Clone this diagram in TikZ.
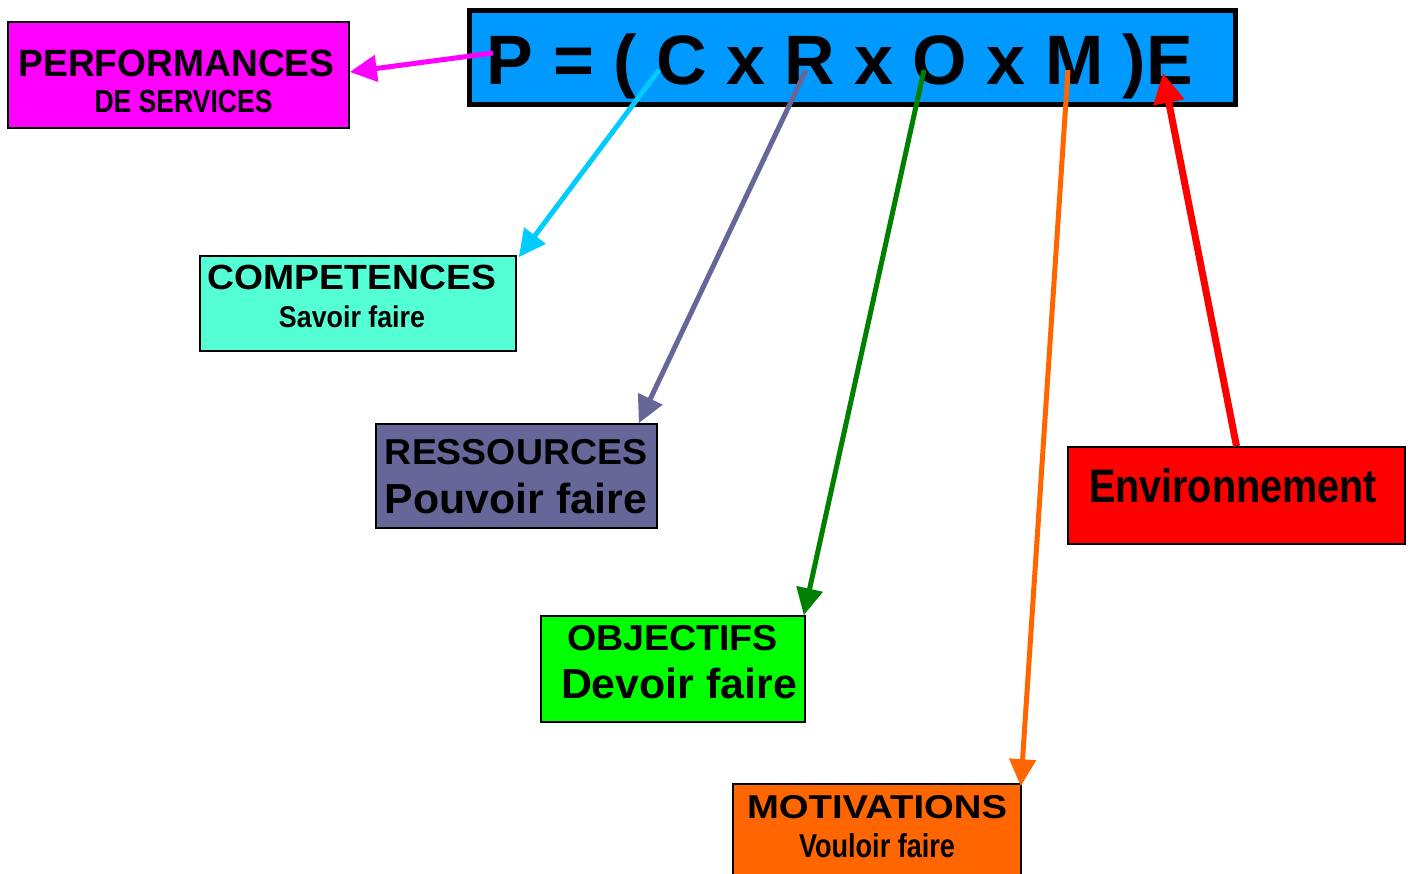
\documentclass[tikz,border=0pt]{standalone}
\usepackage{fontspec}
\setmainfont{Liberation Sans}
\usetikzlibrary{arrows.meta}
\newcommand\fitw[3]{\resizebox{#1pt}{\height}{\fontsize{#2}{#2}\selectfont\bfseries #3}}
\definecolor{formblue}{HTML}{0099FF}
\definecolor{perfcol}{HTML}{FF00FF}
\definecolor{compcol}{HTML}{55FFD5}
\definecolor{resscol}{HTML}{666699}
\definecolor{objcol}{HTML}{00FF00}
\definecolor{motcol}{HTML}{FF6600}
\definecolor{envcol}{HTML}{FF0000}
\definecolor{cyanarrow}{HTML}{00CCFF}
\definecolor{greenarrow}{HTML}{008000}
\begin{document}
\begin{tikzpicture}[x=1pt,y=-1pt,
  box/.style={rectangle,draw=black,line width=1.6pt,inner sep=0pt},
  lbl/.style={anchor=base,inner sep=0pt,text=black},
  conn/.style={line width=5pt,-{Triangle[length=27pt,width=26pt]}}]
\useasboundingbox (0,0) rectangle (1410,874);
\fill[white] (0,0) rectangle (1410,874);
% formula box
\node[box,line width=5pt,fill=formblue,minimum width=766pt,minimum height=94pt] (form) at (852.5,57.5) {};
\node[lbl] (formtxt) at (840,85) {\fitw{706}{70}{P = ( C x R x O x M )E}};
% boxes
\node[box,fill=perfcol,minimum width=341pt,minimum height=106pt] (perf) at (178.5,75) {};
\node[box,fill=compcol,minimum width=316pt,minimum height=95pt] (comp) at (358,303.5) {};
\node[box,fill=resscol,minimum width=281pt,minimum height=104pt] (ress) at (516.5,476) {};
\node[box,fill=objcol,minimum width=264pt,minimum height=106pt] (obj) at (673,669) {};
\node[box,fill=motcol,minimum width=288pt,minimum height=100pt] (mot) at (877,834) {};
\node[box,fill=envcol,minimum width=337pt,minimum height=97pt] (env) at (1236.5,495.5) {};
% labels
\node[lbl] (perfA) at (176.5,77) {\fitw{316}{38}{PERFORMANCES}};
\node[lbl] (perfB) at (183.5,113) {\fitw{178}{32}{DE SERVICES}};
\node[lbl] (compA) at (352,290) {\fitw{288}{35}{COMPETENCES}};
\node[lbl] (compB) at (352,328) {\fitw{146}{30}{Savoir faire}};
\node[lbl] (ressA) at (516,464) {\fitw{262}{36}{RESSOURCES}};
\node[lbl] (ressB) at (516,513) {\fitw{262}{42}{Pouvoir faire}};
\node[lbl] (objA) at (672.5,650) {\fitw{211}{36}{OBJECTIFS}};
\node[lbl] (objB) at (679,698) {\fitw{236}{42}{Devoir faire}};
\node[lbl] (motA) at (877,818) {\fitw{260}{33}{MOTIVATIONS}};
\node[lbl] (motB) at (877,857) {\fitw{156}{33}{Vouloir faire}};
\node[lbl] (envA) at (1233,502) {\fitw{288}{47}{Environnement}};
% anchor points on the formula
\coordinate (cP) at (493,53);
\coordinate (cC) at (659,70);
\coordinate (cR) at (806,70);
\coordinate (cO) at (924,70);
\coordinate (cM) at (1068,70);
\coordinate (cE) at (1163,73);
% connectors
\draw[conn,perfcol] (cP) -- ([yshift=3pt]perf.east);
\draw[conn,cyanarrow] (cC) -- ([shift={(2pt,-2pt)}]comp.north east);
\draw[conn,resscol] (cR) -- ([xshift=-19pt]ress.north east);
\draw[conn,greenarrow] (cO) -- ([xshift=-2pt]obj.north east);
\draw[conn,motcol] (cM) -- ([shift={(-1pt,-3pt)}]mot.north east);
\draw[line width=7pt,envcol,-{Triangle[length=30pt,width=30pt]}] (env.north) -- (cE);
\end{tikzpicture}
\end{document}
